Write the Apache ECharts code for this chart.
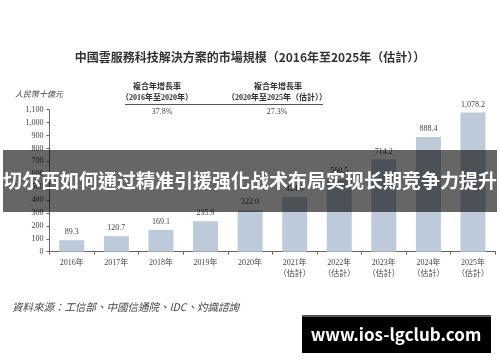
<!DOCTYPE html>
<html>
<head>
<meta charset="utf-8">
<script src="https://cdn.jsdelivr.net/npm/echarts@6/dist/echarts.min.js"></script>
<style>
html,body{margin:0;padding:0;background:#fff;}
#chart{width:500px;height:362px;}
</style>
</head>
<body>
<div id="chart"></div>
<script>
// ---- data ----
var years = ['2016年','2017年','2018年','2019年','2020年','2021年','2022年','2023年','2024年','2025年'];
var estimated = [false,false,false,false,false,true,true,true,true,true];
var marketSize = [89.3,120.7,169.1,235.9,322.0,424.0,560.5,714.2,888.4,1078.2];
var yTicks = [0,100,200,300,400,500,600,700,800,900,1000,1100];
var titleText = '中國雲服務科技解決方案的市場規模（2016年至2025年（估計））';
var unitText = '人民幣十億元';
var cagrHead = '複合年增長率';
var cagrPeriods = ['（2016年至2020年）','（2020年至2025年（估計））'];
var cagrValues = ['37.8%','27.3%'];
var sourceText = '資料來源：工信部、中國信通院、IDC、灼識諮詢';
var bannerText = '切尔西如何通过精准引援强化战术布局实现长期竞争力提升';
var siteText = 'www.ios-lgclub.com';

var SERIF = "'Liberation Serif','Noto Sans CJK TC',serif";
var CJK = "'Noto Sans CJK TC','Noto Sans CJK SC',sans-serif";

function fmt(v){
  var s = v.toFixed(1).split('.');
  return s[0].replace(/\B(?=(\d{3})+(?!\d))/g, ',') + '.' + s[1];
}
function fmtInt(v){ return String(v).replace(/\B(?=(\d{3})+(?!\d))/g, ','); }

var xLabels = years.map(function(y,i){ return estimated[i] ? y + '\n（估計）' : y; });

var chart = echarts.init(document.getElementById('chart'), null, {renderer:'canvas'});
chart.setOption({
  animation:false,
  backgroundColor:'#fff',
  grid:{left:49.5,right:4.7,top:109.7,bottom:110.3,containLabel:false},
  xAxis:{
    type:'category',
    data:xLabels,
    axisLine:{lineStyle:{color:'#666',width:1}},
    axisTick:{show:true,alignWithLabel:false,length:3,lineStyle:{color:'#666'}},
    axisLabel:{color:'#444',fontSize:8,fontFamily:SERIF,margin:6,lineHeight:11,interval:0}
  },
  yAxis:{
    type:'value',
    min:yTicks[0], max:yTicks[yTicks.length-1], interval:100,
    splitLine:{show:false},
    axisLine:{show:true,lineStyle:{color:'#666',width:1}},
    axisTick:{show:true,length:3,lineStyle:{color:'#666'}},
    axisLabel:{color:'#444',fontSize:8,fontFamily:SERIF,margin:6,formatter:function(v){return fmtInt(v);}}
  },
  series:[{
    type:'bar',
    data:marketSize,
    barWidth:25,
    itemStyle:{color:'#bccad9'},
    label:{show:true,position:'top',distance:4,color:'#444',fontSize:8,fontFamily:SERIF,
      formatter:function(p){return fmt(p.value);}}
  }],
  graphic:[
    {type:'text',x:250,y:57,style:{text:titleText,font:'bold 12px '+CJK,fill:'#333',textAlign:'center',textVerticalAlign:'middle'}},
    {type:'text',left:15,top:91,style:{text:unitText,font:'italic 8px '+SERIF,fill:'#444'}},
    {type:'text',x:157,y:86,style:{text:cagrHead,font:'bold 8px '+CJK,fill:'#333',textAlign:'center',textVerticalAlign:'middle'}},
    {type:'text',x:157,y:98,style:{text:cagrPeriods[0],font:'bold 8px '+SERIF,fill:'#333',textAlign:'center',textVerticalAlign:'middle'}},
    {type:'text',x:162,y:112,style:{text:cagrValues[0],font:'8px '+SERIF,fill:'#444',textAlign:'center',textVerticalAlign:'middle'}},
    {type:'text',x:278,y:86,style:{text:cagrHead,font:'bold 8px '+CJK,fill:'#333',textAlign:'center',textVerticalAlign:'middle'}},
    {type:'text',x:277,y:98,style:{text:cagrPeriods[1],font:'bold 8px '+SERIF,fill:'#333',textAlign:'center',textVerticalAlign:'middle'}},
    {type:'text',x:277,y:112,style:{text:cagrValues[1],font:'8px '+SERIF,fill:'#444',textAlign:'center',textVerticalAlign:'middle'}},
    {type:'line',shape:{x1:125,y1:104.5,x2:323,y2:104.5},style:{stroke:'#555',lineWidth:1}},
    {type:'text',left:12,top:302,style:{text:sourceText,font:'italic 10.5px '+CJK,fill:'#444'}},
    {type:'rect',shape:{x:3,y:150,width:494,height:62},style:{fill:'rgba(0,0,0,0.6)'},z:100},
    {type:'text',x:250,y:181,z:101,style:{text:bannerText,font:'bold 19px '+CJK,fill:'#fff',textAlign:'center',textVerticalAlign:'middle'}},
    {type:'rect',shape:{x:302,y:315,width:189,height:38},style:{fill:'#000'},z:100},
    {type:'rect',shape:{x:302,y:315,width:189,height:2},style:{fill:'#555'},z:101},
    {type:'text',x:396,y:335,z:101,style:{text:siteText,font:'bold 17px '+CJK,fill:'#fff',textAlign:'center',textVerticalAlign:'middle'}}
  ]
});
</script>
</body>
</html>
